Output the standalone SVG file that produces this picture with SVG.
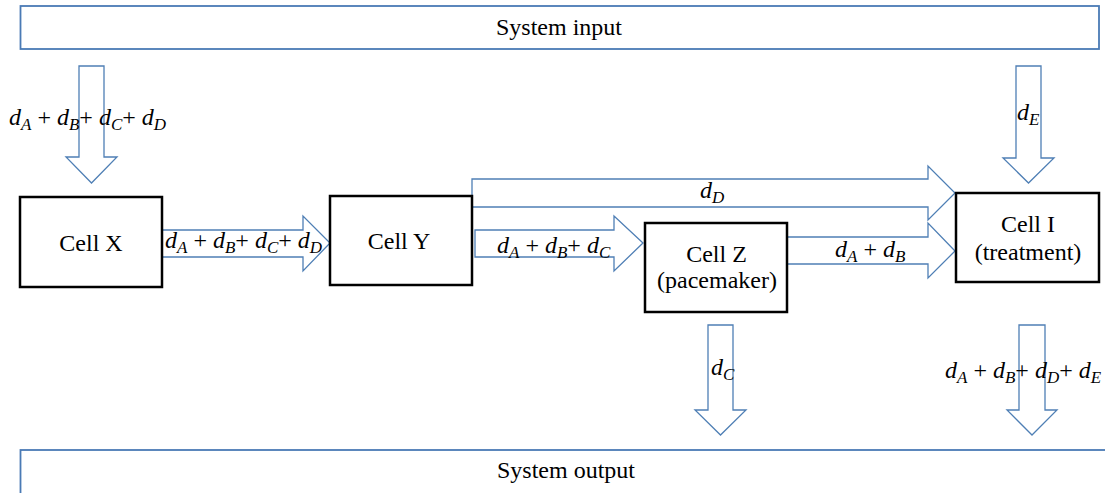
<svg xmlns="http://www.w3.org/2000/svg" width="1105" height="493" viewBox="0 0 1105 493">
  <style>
    .frame { fill: #ffffff; stroke: #4a7ab5; stroke-width: 1.8; }
    .cell { fill: #ffffff; stroke: #000000; stroke-width: 2.5; }
    .flow { fill: #ffffff; stroke: #4f7fb5; stroke-width: 1.3; stroke-linejoin: miter; }
    .label { font-size: 24px; fill: #000000; }
    .math { font-size: 24px; font-style: italic; fill: #000000; }
    .sub { font-size: 17px; }
    .op { font-style: normal; }
  </style>

  <rect width="1105" height="493" fill="#ffffff"/>

  <g font-family="'Liberation Serif', 'DejaVu Serif', serif">
  <!-- system boundaries -->
  <g id="system-input">
    <rect class="frame" x="20.5" y="6" width="1078.5" height="43"/>
    <text class="label" x="559" y="35" text-anchor="middle">System input</text>
  </g>
  <g id="system-output">
    <rect class="frame" x="20.5" y="450" width="1100" height="60"/>
    <text class="label" x="566" y="478" text-anchor="middle">System output</text>
  </g>

  <!-- block arrows between cells -->
  <g id="connectors">
    <!-- input to Cell X -->
    <polygon class="flow" points="79,66 104,66 104,157 117,157 91.5,183 66,157 79,157"/>
    <!-- Cell X to Cell Y -->
    <polygon class="flow" points="162,230 303,230 303,216 330,243 303,271 303,257 162,257"/>
    <!-- Cell Y to Cell I (bypass) -->
    <polygon class="flow" points="472,179 928,179 928,166 955,193 928,220 928,207 472,207"/>
    <!-- Cell Y to Cell Z -->
    <polygon class="flow" points="475,230 614,230 614,216 643,243 614,271 614,257 475,257"/>
    <!-- Cell Z to Cell I -->
    <polygon class="flow" points="787,237 928,237 928,223 955,251 928,278 928,264 787,264"/>
    <!-- input to Cell I -->
    <polygon class="flow" points="1016,66 1041,66 1041,158 1054,158 1028.5,183 1003,158 1016,158"/>
    <!-- Cell Z to output -->
    <polygon class="flow" points="708,325 733,325 733,410 746,410 720.5,435 695,410 708,410"/>
    <!-- Cell I to output -->
    <polygon class="flow" points="1019,325 1045,325 1045,410 1057,410 1032,435 1007,410 1019,410"/>
  </g>

  <!-- flow labels -->
  <g id="flow-labels">
    <text class="math" x="9" y="125">d<tspan class="sub" dy="5">A</tspan><tspan class="op" dy="-5"> + </tspan>d<tspan class="sub" dy="5">B</tspan><tspan class="op" dy="-5">+ </tspan>d<tspan class="sub" dy="5">C</tspan><tspan class="op" dy="-5">+ </tspan>d<tspan class="sub" dy="5">D</tspan></text>
    <text class="math" x="165" y="248">d<tspan class="sub" dy="5">A</tspan><tspan class="op" dy="-5"> + </tspan>d<tspan class="sub" dy="5">B</tspan><tspan class="op" dy="-5">+ </tspan>d<tspan class="sub" dy="5">C</tspan><tspan class="op" dy="-5">+ </tspan>d<tspan class="sub" dy="5">D</tspan></text>
    <text class="math" x="700" y="198">d<tspan class="sub" dy="5">D</tspan></text>
    <text class="math" x="497" y="253">d<tspan class="sub" dy="5">A</tspan><tspan class="op" dy="-5"> + </tspan>d<tspan class="sub" dy="5">B</tspan><tspan class="op" dy="-5">+ </tspan>d<tspan class="sub" dy="5">C</tspan></text>
    <text class="math" x="835" y="257">d<tspan class="sub" dy="5">A</tspan><tspan class="op" dy="-5"> + </tspan>d<tspan class="sub" dy="5">B</tspan></text>
    <text class="math" x="1017" y="120">d<tspan class="sub" dy="5">E</tspan></text>
    <text class="math" x="711" y="375">d<tspan class="sub" dy="5">C</tspan></text>
    <text class="math" x="945" y="378">d<tspan class="sub" dy="5">A</tspan><tspan class="op" dy="-5"> + </tspan>d<tspan class="sub" dy="5">B</tspan><tspan class="op" dy="-5">+ </tspan>d<tspan class="sub" dy="5">D</tspan><tspan class="op" dy="-5">+ </tspan>d<tspan class="sub" dy="5">E</tspan></text>
  </g>

  <!-- cells -->
  <g id="cell-x">
    <rect class="cell" x="20" y="197" width="142" height="90"/>
    <text class="label" x="91" y="251" text-anchor="middle">Cell X</text>
  </g>
  <g id="cell-y">
    <rect class="cell" x="330" y="196" width="142" height="89"/>
    <text class="label" x="399" y="249" text-anchor="middle">Cell Y</text>
  </g>
  <g id="cell-z">
    <rect class="cell" x="645" y="223" width="142" height="89"/>
    <text class="label" x="716.5" y="262" text-anchor="middle">Cell Z</text>
    <text class="label" x="717" y="288" text-anchor="middle">(pacemaker)</text>
  </g>
  <g id="cell-i">
    <rect class="cell" x="956" y="193" width="143" height="89"/>
    <text class="label" x="1028" y="232" text-anchor="middle">Cell I</text>
    <text class="label" x="1028" y="260" text-anchor="middle">(treatment)</text>
  </g>
  </g>
</svg>
